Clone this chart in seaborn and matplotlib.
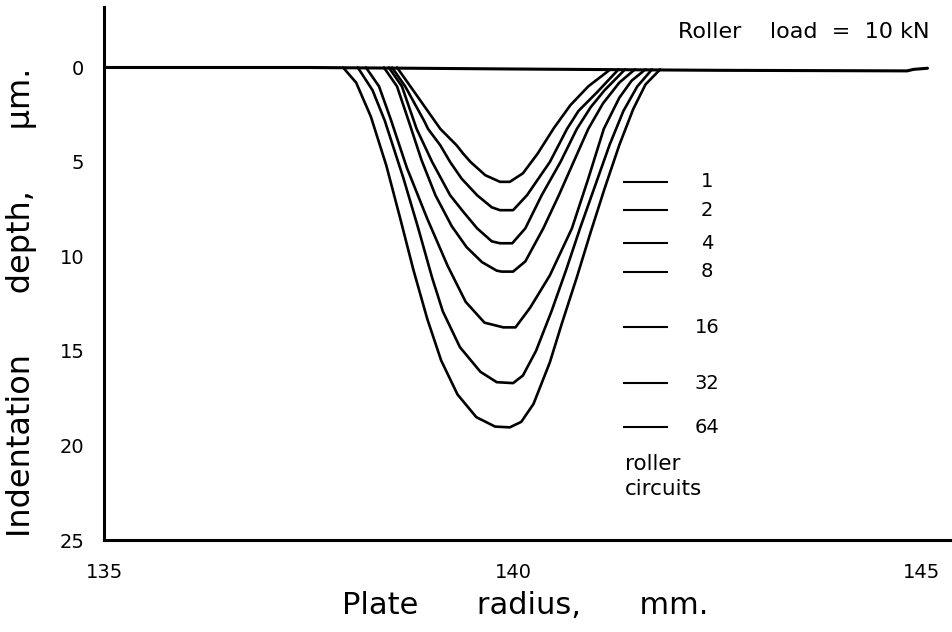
import matplotlib
matplotlib.use("Agg")
import matplotlib.pyplot as plt
import seaborn as sns
import pandas as pd

# indentation profiles (radius in mm, depth in um)
circuits = ["1", "2", "4", "8", "16", "32", "64"]

x1 = [138.58, 138.76, 139.11, 139.31, 139.39, 139.48, 139.66, 139.84, 139.96,
      140.12, 140.30, 140.50, 140.70, 140.92, 141.19]
d1 = [0.0, 1.1, 3.25, 4.12, 4.56, 5.0, 5.7, 6.05, 6.05,
      5.6, 4.56, 3.2, 2.0, 1.0, 0.1]

x2 = [138.52, 138.68, 138.91, 138.96, 139.11, 139.23, 139.37, 139.56, 139.74, 139.84,
      140.0, 140.17, 140.45, 140.66, 140.80, 141.03, 141.29]
d2 = [0.0, 1.0, 2.81, 3.25, 4.12, 5.0, 5.88, 6.76, 7.4, 7.55,
      7.55, 6.76, 5.0, 3.25, 2.3, 1.3, 0.1]

x4 = [138.48, 138.64, 138.82, 139.01, 139.23, 139.39, 139.56, 139.74, 139.84, 139.99,
      140.15, 140.35, 140.58, 140.78, 140.95, 141.12, 141.37]
d4 = [0.0, 1.0, 3.25, 5.0, 6.76, 7.63, 8.51, 9.2, 9.3, 9.3,
      8.51, 6.76, 5.0, 3.25, 2.1, 1.2, 0.1]

x8 = [138.42, 138.58, 138.72, 138.88, 139.05, 139.25, 139.43, 139.62, 139.80, 139.86,
      140.0, 140.15, 140.37, 140.56, 140.74, 140.92, 141.10, 141.30, 141.49]
d8 = [0.0, 1.0, 2.8, 4.9, 6.76, 8.4, 9.5, 10.3, 10.75, 10.8,
      10.8, 10.26, 8.51, 6.76, 5.0, 3.25, 1.9, 0.8, 0.1]

x16 = [138.20, 138.36, 138.50, 138.70, 138.95, 139.20, 139.42, 139.65, 139.88, 140.03,
       140.21, 140.45, 140.72, 140.92, 141.11, 141.30, 141.45, 141.62]
d16 = [0.0, 1.0, 2.7, 5.3, 8.0, 10.5, 12.4, 13.5, 13.75, 13.75,
       12.7, 11.0, 8.51, 5.88, 3.25, 1.6, 0.7, 0.1]

x32 = [138.10, 138.28, 138.43, 138.66, 138.84, 139.01, 139.14, 139.35, 139.60, 139.80,
       140.0, 140.12, 140.28, 140.47, 140.65, 140.82, 141.0, 141.18, 141.35, 141.52, 141.70]
d32 = [0.0, 1.2, 2.81, 5.88, 8.51, 11.13, 12.9, 14.8, 16.1, 16.65,
       16.7, 16.3, 15.0, 12.9, 10.7, 8.5, 6.3, 4.1, 2.3, 1.0, 0.1]

x64 = [137.92, 138.08, 138.26, 138.45, 138.62, 138.78, 138.95, 139.12, 139.32, 139.55,
       139.78, 139.96, 140.10, 140.25, 140.45, 140.60, 140.78, 140.95, 141.12, 141.30,
       141.47, 141.62, 141.80]
d64 = [0.0, 0.8, 2.6, 5.2, 8.0, 10.7, 13.3, 15.5, 17.3, 18.5,
       19.0, 19.04, 18.75, 17.8, 15.6, 13.5, 11.1, 8.7, 6.4, 4.1,
       2.2, 0.9, 0.1]

# undisturbed surface trace
base_x = [135.0, 137.5, 140.0, 142.5, 144.82, 144.9, 145.07]
base_d = [0.0, 0.0, 0.08, 0.15, 0.18, 0.1, 0.04]

xs = [x1, x2, x4, x8, x16, x32, x64]
ds = [d1, d2, d4, d8, d16, d32, d64]

rows = []
for c, xx, dd in zip(circuits, xs, ds):
    for a, b in zip(xx, dd):
        rows.append({"radius": a, "depth": b, "circuits": c})
df = pd.DataFrame(rows)
base = pd.DataFrame({"radius": base_x, "depth": base_d})

sns.set_theme(style="white")
plt.rcParams["font.family"] = ["DejaVu Sans"]
plt.rcParams["text.color"] = "black"

fig = plt.figure(figsize=(9.52, 6.32), dpi=100)
ax = fig.add_axes([104.4 / 952, 1 - 540 / 632, 1 - 104.4 / 952, 533 / 632])

sns.lineplot(data=base, x="radius", y="depth", color="black", lw=2.2,
             estimator=None, sort=False, ax=ax)
sns.lineplot(data=df, x="radius", y="depth", hue="circuits", hue_order=circuits,
             palette=["black"] * len(circuits), estimator=None, sort=False,
             legend=False, lw=1.9, ax=ax)

# label key: short dash at each curve's maximum depth
for c, dd in zip(circuits, ds):
    dm = max(dd)
    ax.hlines(dm, 141.34, 141.89, color="black", lw=1.5)
    ax.text(142.37, dm, c, ha="center", va="center", fontsize=14, color="black")
ax.text(141.37, 20.97, "roller", ha="left", va="center", fontsize=15.5, color="black")
ax.text(141.37, 22.28, "circuits", ha="left", va="center", fontsize=15.5, color="black")

ax.set_xlim(135, 145.37)
ax.set_ylim(25, -3.2)
ax.set_xticks([135, 140, 145])
ax.set_yticks([0, 5, 10, 15, 20, 25])
ax.set_xlabel("")
ax.set_ylabel("")
for s in ["top", "right"]:
    ax.spines[s].set_visible(False)
for s in ["left", "bottom"]:
    ax.spines[s].set_linewidth(2.2)
    ax.spines[s].set_color("black")
ax.tick_params(axis="both", direction="inout", length=7, width=1.5,
               colors="black", labelsize=14)
ax.tick_params(axis="y", pad=11)
ax.tick_params(axis="x", pad=13)

fig.text(22 / 952, 1 - 302 / 632, "Indentation      depth,      \u03bcm.", rotation=90,
         ha="center", va="center", fontsize=23, color="black")
fig.text(525 / 952, 1 - 605 / 632, "Plate      radius,      mm.", ha="center",
         va="center", fontsize=22, color="black")
fig.text(930 / 952, 1 - 32 / 632, "Roller    load  =  10 kN", ha="right",
         va="center", fontsize=16, color="black")

fig.savefig("out.png", dpi=100)
